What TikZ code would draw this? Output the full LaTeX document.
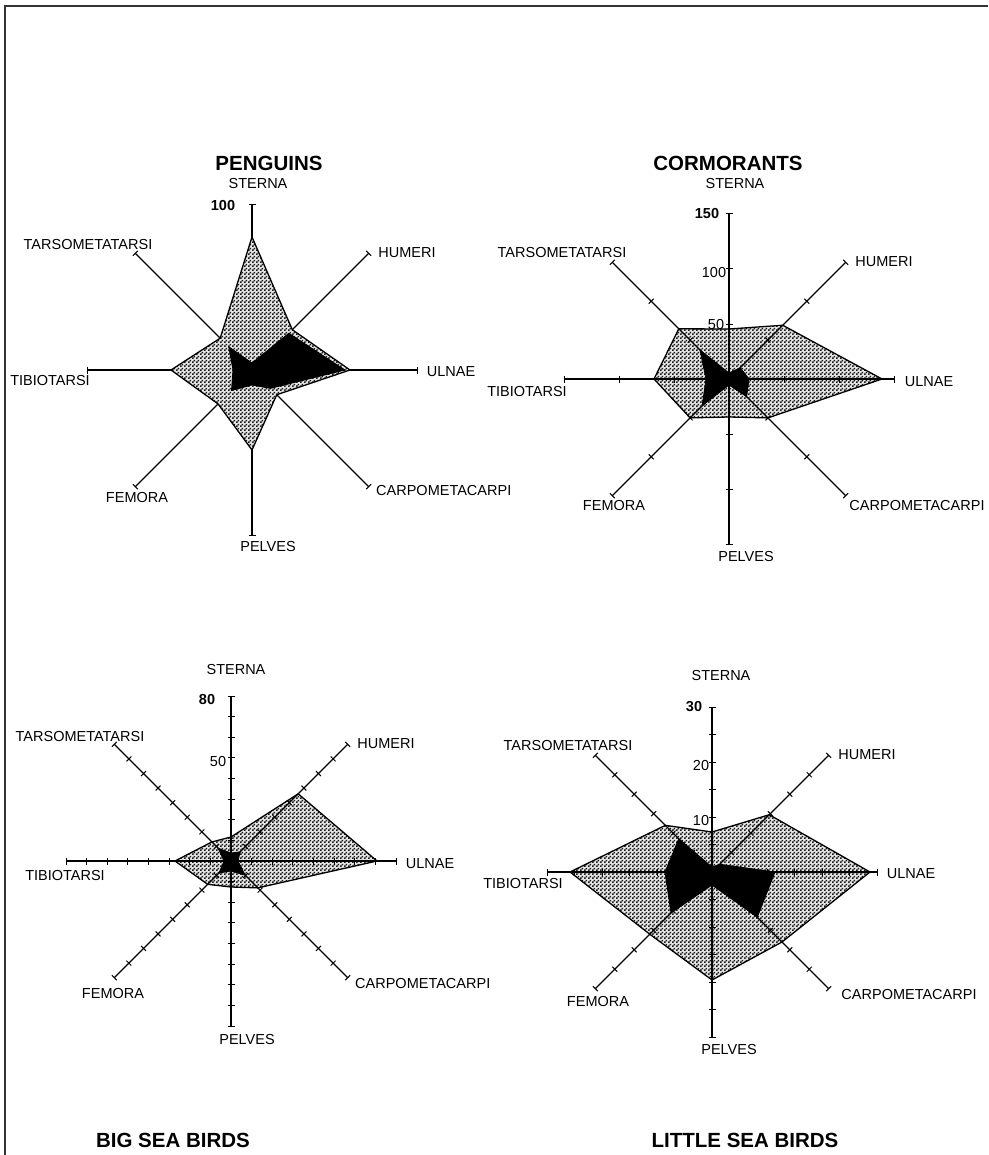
\documentclass[tikz,border=0pt]{standalone}
\usepackage{fontspec}
\setmainfont{Liberation Sans}
\usetikzlibrary{patterns.meta}
\tikzdeclarepattern{
  name=fineck,
  type=uncolored,
  bounding box={(0,0) and (4pt,4pt)},
  tile size={(4pt,4pt)},
  code={
    \pgfpathrectangle{\pgfpointorigin}{\pgfpoint{2pt}{2pt}}
    \pgfpathrectangle{\pgfpoint{2pt}{2pt}}{\pgfpoint{2pt}{2pt}}
    \pgfusepath{fill}
  }
}
\newcommand\radpoly[9]{\path[#1] (-90:#2) -- (-45:#3) -- (0:#4) -- (45:#5) -- (90:#6) -- (135:#7) -- (180:#8) -- (225:#9) -- cycle;}
\newcommand\radaxes[1]{%
  \foreach \a in {-90,-45,...,225} {%
    \draw[axisline] (0,0) -- (\a:165);
    \foreach \r in {#1} \draw[tickline] ([shift={(\a+90:3.5)}]\a:\r) -- ([shift={(\a-90:3.5)}]\a:\r);
  }}
\begin{document}
\begin{tikzpicture}[x=1pt,y=-1pt,
  lbl/.style={font=\fontsize{14.5}{16}\selectfont, inner sep=0pt},
  num/.style={font=\bfseries\fontsize{14.5}{16}\selectfont, inner sep=0pt},
  ttl/.style={font=\bfseries\fontsize{20.5}{24}\selectfont, inner sep=0pt},
  axisline/.style={line width=1.3pt},
  tickline/.style={line width=1pt},
  hatch/.style={fill=gray!20, postaction={pattern=fineck, pattern color=black!90}, postaction={draw=black, line width=1.3pt, line join=round}},
  blk/.style={fill=black, draw=black, line width=0.8pt, line join=round},
  frame/.style={line width=1.4pt, black!80}]
\useasboundingbox (0,0) rectangle (988,1155);
% frame
\draw[frame] (5,1155) -- (5,6) -- (988,6);

% ---------- PENGUINS ----------
\begin{scope}[shift={(252,370)}]
  \radaxes{165}
  \radpoly{hatch}{133}{57}{98}{35}{80}{48}{81}{45}
  \radpoly{blk}{7}{52}{93}{26}{15}{29}{19}{33}
  \draw[axisline] (0:98) -- (0:165);
\end{scope}
\node[ttl] (t1) at (269,163) {PENGUINS};
\node[lbl] (p-st) at (258,184) {STERNA};
\node[num] (p-max) at (223,206) {100};
\node[lbl] (p-ta) at (88,245) {TARSOMETATARSI};
\node[lbl] (p-hu) at (407,253) {HUMERI};
\node[lbl] (p-ul) at (451,372) {ULNAE};
\node[lbl] (p-ti) at (50,381) {TIBIOTARSI};
\node[lbl] (p-fe) at (137,498) {FEMORA};
\node[lbl, anchor=west] (p-ca) at (376,491) {CARPOMETACARPI};
\node[lbl] (p-pe) at (268,547) {PELVES};

% ---------- CORMORANTS ----------
\begin{scope}[shift={(729,379)}]
  \radpoly{hatch}{50}{76}{153}{55}{38}{55}{75}{71}
  \radpoly{blk}{6}{16}{20}{25}{6}{38}{23}{41}
  \radaxes{55,110,165}
\end{scope}
\node[ttl] (t2) at (728,163) {CORMORANTS};
\node[lbl] (c-st) at (735,184) {STERNA};
\node[num] (c-max) at (707,214) {150};
\node[lbl] (c-100) at (714,273) {100};
\node[lbl] (c-50) at (716,325) {50};
\node[lbl] (c-ta) at (562,253) {TARSOMETATARSI};
\node[lbl] (c-hu) at (884,262) {HUMERI};
\node[lbl] (c-ul) at (929,382) {ULNAE};
\node[lbl] (c-ti) at (527,392) {TIBIOTARSI};
\node[lbl] (c-fe) at (614,506) {FEMORA};
\node[lbl] (c-ca) at (917,506) {CARPOMETACARPI};
\node[lbl] (c-pe) at (746,557) {PELVES};

% ---------- BIG SEA BIRDS ----------
\begin{scope}[shift={(231,861)}]
  \radpoly{hatch}{24}{95}{146}{38}{26}{33}{56}{27}
  \radpoly{blk}{8}{13}{7}{20}{10}{17}{7}{18}
  \radaxes{20.6,41.2,61.9,82.5,103.1,123.7,144.4,165}
\end{scope}
\node[lbl] (b-st) at (236,670) {STERNA};
\node[num] (b-max) at (207,700) {80};
\node[lbl] (b-50) at (218,762) {50};
\node[lbl] (b-ta) at (80,737) {TARSOMETATARSI};
\node[lbl] (b-hu) at (386,744) {HUMERI};
\node[lbl] (b-ul) at (430,864) {ULNAE};
\node[lbl] (b-ti) at (65,875) {TIBIOTARSI};
\node[lbl] (b-fe) at (113,993) {FEMORA};
\node[lbl, anchor=west] (b-ca) at (355,983) {CARPOMETACARPI};
\node[lbl] (b-pe) at (247,1039) {PELVES};
\node[ttl] (t3) at (173,1140) {BIG SEA BIRDS};

% ---------- LITTLE SEA BIRDS ----------
\begin{scope}[shift={(712,872)}]
  \radpoly{hatch}{40}{81}{158}{99}{108}{88}{142}{66}
  \radpoly{blk}{5}{11}{63}{64}{13}{58}{47}{47}
  \radaxes{27.5,55,82.5,110,137.5,165}
\end{scope}
\node[lbl] (l-st) at (721,676) {STERNA};
\node[num] (l-max) at (694,707) {30};
\node[lbl] (l-20) at (701,766) {20};
\node[lbl] (l-10) at (701,820) {10};
\node[lbl] (l-ta) at (568,746) {TARSOMETATARSI};
\node[lbl] (l-hu) at (867,755) {HUMERI};
\node[lbl] (l-ul) at (911,874) {ULNAE};
\node[lbl] (l-ti) at (523,883) {TIBIOTARSI};
\node[lbl] (l-fe) at (598,1001) {FEMORA};
\node[lbl] (l-ca) at (909,994) {CARPOMETACARPI};
\node[lbl] (l-pe) at (729,1049) {PELVES};
\node[ttl] (t4) at (745,1140) {LITTLE SEA BIRDS};
\end{tikzpicture}
\end{document}
